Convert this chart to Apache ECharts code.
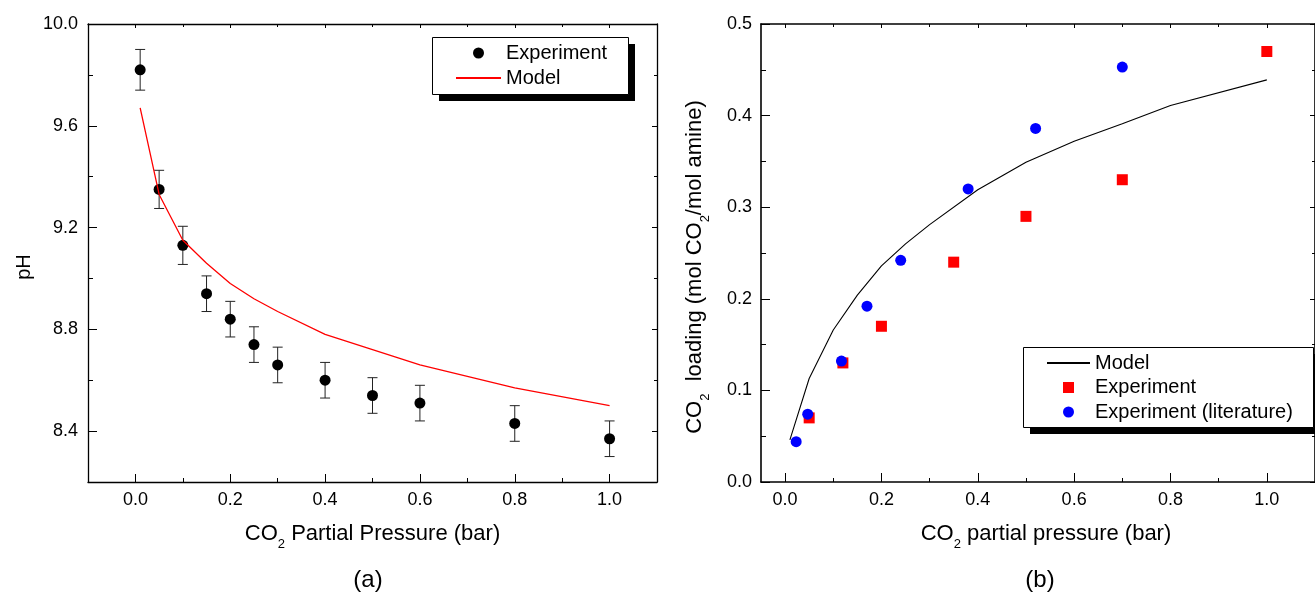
<!DOCTYPE html>
<html>
<head>
<meta charset="utf-8">
<script src="https://cdn.jsdelivr.net/npm/echarts@6/dist/echarts.min.js"></script>
<style>
html,body{margin:0;padding:0;background:#fff;}
#chart{width:1315px;height:594px;}
</style>
</head>
<body>
<div id="chart"></div>
<script>
// ---------- data (a): pH vs CO2 partial pressure ----------
const phExpX   = [0.01, 0.05, 0.10, 0.15, 0.20, 0.25, 0.30, 0.40, 0.50, 0.60, 0.80, 1.00];
const phExpY   = [9.82, 9.35, 9.13, 8.94, 8.84, 8.74, 8.66, 8.60, 8.54, 8.51, 8.43, 8.37];
const phExpErr = [0.08, 0.075, 0.075, 0.07, 0.07, 0.07, 0.07, 0.07, 0.07, 0.07, 0.07, 0.07];
const phModelX = [0.01, 0.05, 0.10, 0.15, 0.20, 0.25, 0.30, 0.40, 0.50, 0.60, 0.80, 1.00];
const phModelY = [9.67, 9.33, 9.15, 9.06, 8.98, 8.92, 8.87, 8.78, 8.72, 8.66, 8.57, 8.50];

// ---------- data (b): CO2 loading vs CO2 partial pressure ----------
const ldModelX = [0.01, 0.05, 0.10, 0.15, 0.20, 0.25, 0.30, 0.40, 0.50, 0.60, 0.70, 0.80, 1.00];
const ldModelY = [0.046, 0.113, 0.166, 0.204, 0.236, 0.260, 0.281, 0.319, 0.349, 0.372, 0.391, 0.411, 0.439];
const ldExpX   = [0.05, 0.12, 0.20, 0.35, 0.50, 0.70, 1.00];
const ldExpY   = [0.07, 0.13, 0.17, 0.24, 0.29, 0.33, 0.47];
const ldLitX   = [0.023, 0.047, 0.117, 0.170, 0.240, 0.380, 0.520, 0.700];
const ldLitY   = [0.044, 0.074, 0.132, 0.192, 0.242, 0.320, 0.386, 0.453];

// ---------- tick values ----------
const aXMajor = [0, 0.2, 0.4, 0.6, 0.8, 1.0];
const aXMinor = [0.1, 0.3, 0.5, 0.7, 0.9];
const aYMajor = [8.4, 8.8, 9.2, 9.6, 10.0];
const aYMinor = [8.6, 9.0, 9.4, 9.8];
const bXMajor = [0, 0.2, 0.4, 0.6, 0.8, 1.0];
const bXMinor = [0.1, 0.3, 0.5, 0.7, 0.9];
const bYMajor = [0, 0.1, 0.2, 0.3, 0.4, 0.5];
const bYMinor = [0.05, 0.15, 0.25, 0.35, 0.45];

const FONT = 'Liberation Sans, Arial, sans-serif';
const zip = (xs, ys) => xs.map((x, i) => [x, ys[i]]);

const richName = {
  t: {fontFamily: FONT, fontSize: 22, lineHeight: 34, color: '#000', verticalAlign: 'middle'},
  s: {fontFamily: FONT, fontSize: 13, lineHeight: 13, color: '#000', verticalAlign: 'bottom'}
};

function mkAxis(gridIndex, position, min, max, ticks, tickLen, lineW, extra) {
  const a = {
    type: 'value', gridIndex: gridIndex, position: position, min: min, max: max,
    axisLine: {show: lineW > 0, onZero: false, lineStyle: {color: '#000', width: lineW || 1}},
    axisTick: {show: true, inside: true, length: tickLen, customValues: ticks,
               lineStyle: {color: '#000', width: 1}},
    axisLabel: {show: false},
    splitLine: {show: false},
    silent: true
  };
  return Object.assign(a, extra || {});
}
function lbl(values, margin) {
  return {show: true, customValues: values, margin: margin, color: '#000',
          fontFamily: FONT, fontSize: 18, formatter: v => Number(v).toFixed(1)};
}

const xAxes = [
  // (a) grid 0
  mkAxis(0, 'bottom', -0.1, 1.1, aXMajor, 8, 1.3, {
    axisLabel: lbl(aXMajor, 9),
    name: '{t|CO}{s|2}{t| Partial Pressure (bar)}', nameLocation: 'middle', nameGap: 35,
    nameTextStyle: {rich: richName}
  }),
  mkAxis(0, 'bottom', -0.1, 1.1, aXMinor, 4, 0),
  mkAxis(0, 'top', -0.1, 1.1, aXMajor, 4, 1.3),
  mkAxis(0, 'top', -0.1, 1.1, aXMinor, 3, 0),
  // (b) grid 1
  mkAxis(1, 'bottom', -0.05, 1.1, bXMajor, 9, 1.6, {
    axisLabel: lbl(bXMajor, 9),
    name: '{t|CO}{s|2}{t| partial pressure (bar)}', nameLocation: 'middle', nameGap: 35,
    nameTextStyle: {rich: richName, padding: [0, 0, 0, 16]}
  }),
  mkAxis(1, 'bottom', -0.05, 1.1, bXMinor, 4, 0),
  mkAxis(1, 'top', -0.05, 1.1, bXMajor, 4, 1.6),
  mkAxis(1, 'top', -0.05, 1.1, bXMinor, 3, 0)
];
const yAxes = [
  mkAxis(0, 'left', 8.2, 10.0, aYMajor, 9, 1.3, {
    axisLabel: lbl(aYMajor, 10),
    name: 'pH', nameLocation: 'middle', nameGap: 54,
    nameTextStyle: {fontFamily: FONT, fontSize: 20, color: '#000', padding: [0, 28, 0, 0]}
  }),
  mkAxis(0, 'left', 8.2, 10.0, aYMinor, 5, 0),
  mkAxis(0, 'right', 8.2, 10.0, aYMajor, 5, 1.3),
  mkAxis(0, 'right', 8.2, 10.0, aYMinor, 3, 0),
  mkAxis(1, 'left', 0, 0.5, bYMajor, 9, 1.6, {
    axisLabel: lbl(bYMajor, 9),
    name: '{t|CO}{s|2}{t|  loading (mol CO}{s|2}{t|/mol amine)}', nameLocation: 'middle', nameGap: 49,
    nameTextStyle: {rich: richName, padding: [0, 28, 0, 0]}
  }),
  mkAxis(1, 'left', 0, 0.5, bYMinor, 5, 0),
  mkAxis(1, 'right', 0, 0.5, bYMajor, 5, 1.6),
  mkAxis(1, 'right', 0, 0.5, bYMinor, 3, 0)
];

const errData = phExpX.map((x, i) => [x, phExpY[i] - phExpErr[i], phExpY[i] + phExpErr[i]]);

// legend frames (box + solid drop shadow)
function frame(x, y, w, h) {
  return [
    {type: 'rect', z: 20, silent: true, shape: {x: x + 7, y: y + 7, width: w, height: h},
     style: {fill: '#000'}},
    {type: 'rect', z: 21, silent: true, shape: {x: x + 0.5, y: y + 0.5, width: w, height: h},
     style: {fill: '#fff', stroke: '#000', lineWidth: 1}}
  ];
}

const legendText = {fontFamily: FONT, fontSize: 20, color: '#000', lineHeight: 22};

const option = {
  animation: false,
  backgroundColor: '#fff',
  textStyle: {fontFamily: FONT},
  grid: [
    {left: 88, top: 24, right: 658, bottom: 112},
    {left: 761, top: 24, right: -8, bottom: 112}
  ],
  xAxis: xAxes,
  yAxis: yAxes,
  legend: [
    {
      data: [
        {name: 'Experiment'},
        {name: 'Model', itemStyle: {opacity: 0}}
      ],
      left: 432, top: 37, orient: 'vertical', z: 30,
      padding: [5, 22, 5, 23], itemGap: 3, itemWidth: 45, itemHeight: 11,
      selectedMode: false, textStyle: legendText
    },
    {
      data: [
        {name: 'Model_b', itemStyle: {opacity: 0}},
        {name: 'Experiment_b', icon: 'path://M0,0 L10,0 L10,10 L0,10 Z'},
        {name: 'Experiment (literature)'}
      ],
      formatter: n => n.replace('_b', ''),
      left: 1023, top: 347, orient: 'vertical', z: 30,
      padding: [5, 20, 4, 23], itemGap: 2.5, itemWidth: 43, itemHeight: 11,
      symbolKeepAspect: true,
      selectedMode: false, textStyle: legendText
    }
  ],
  series: [
    {
      name: 'Experiment error', type: 'custom', xAxisIndex: 0, yAxisIndex: 0,
      data: errData, silent: true, z: 2,
      renderItem: function (params, api) {
        const x = api.value(0);
        const lo = api.coord([x, api.value(1)]);
        const hi = api.coord([x, api.value(2)]);
        const hw = 5;
        const st = {stroke: '#222', lineWidth: 1};
        return {type: 'group', children: [
          {type: 'line', shape: {x1: lo[0], y1: lo[1], x2: hi[0], y2: hi[1]}, style: st},
          {type: 'line', shape: {x1: lo[0] - hw, y1: lo[1], x2: lo[0] + hw, y2: lo[1]}, style: st},
          {type: 'line', shape: {x1: hi[0] - hw, y1: hi[1], x2: hi[0] + hw, y2: hi[1]}, style: st}
        ]};
      }
    },
    {
      name: 'Experiment', type: 'scatter', xAxisIndex: 0, yAxisIndex: 0,
      data: zip(phExpX, phExpY), symbol: 'circle', symbolSize: 11,
      itemStyle: {color: '#000', opacity: 1}, z: 3, silent: true
    },
    {
      name: 'Model', type: 'line', xAxisIndex: 0, yAxisIndex: 0,
      data: zip(phModelX, phModelY), symbol: 'none', showSymbol: false,
      lineStyle: {color: '#ff0000', width: 1.3}, itemStyle: {color: '#ff0000'}, z: 4, silent: true
    },
    {
      name: 'Model_b', type: 'line', xAxisIndex: 4, yAxisIndex: 4,
      data: zip(ldModelX, ldModelY), symbol: 'none', showSymbol: false,
      lineStyle: {color: '#000', width: 1.1}, itemStyle: {color: '#000'}, z: 2, silent: true
    },
    {
      name: 'Experiment_b', type: 'scatter', xAxisIndex: 4, yAxisIndex: 4,
      data: zip(ldExpX, ldExpY), symbol: 'rect', symbolSize: 11,
      itemStyle: {color: '#ff0000', opacity: 1}, z: 3, silent: true
    },
    {
      name: 'Experiment (literature)', type: 'scatter', xAxisIndex: 4, yAxisIndex: 4,
      data: zip(ldLitX, ldLitY), symbol: 'circle', symbolSize: 11,
      itemStyle: {color: '#0000ff', opacity: 1}, z: 4, silent: true
    }
  ],
  graphic: [].concat(
    frame(432, 37, 196, 57),
    frame(1023, 347, 290, 80),
    [
      {type: 'text', x: 368, y: 580, style: {text: '(a)', font: '24px Liberation Sans, Arial, sans-serif',
        fill: '#000', textAlign: 'center', textVerticalAlign: 'middle'}},
      {type: 'text', x: 1040, y: 580, style: {text: '(b)', font: '24px Liberation Sans, Arial, sans-serif',
        fill: '#000', textAlign: 'center', textVerticalAlign: 'middle'}}
    ]
  )
};

const chart = echarts.init(document.getElementById('chart'), null, {renderer: 'canvas'});
chart.setOption(option);
</script>
</body>
</html>
